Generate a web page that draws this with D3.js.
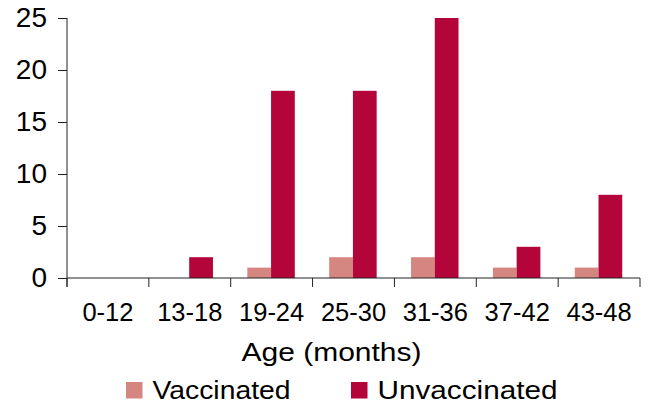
<!DOCTYPE html>
<html>
<head>
<meta charset="utf-8">
<script src="https://cdn.jsdelivr.net/npm/d3@7"></script>
<style>
  html, body { margin: 0; padding: 0; background: #fff; }
  svg { display: block; font-family: "Liberation Sans", Arial, Helvetica, sans-serif; }
</style>
</head>
<body>
<svg id="svg" width="649" height="406"></svg>
<script>
const $svg = d3.select('#svg')

const ageGroups = ['0-12', '13-18', '19-24', '25-30', '31-36', '37-42', '43-48']
const seriesNames = ['Vaccinated', 'Unvaccinated']
const vaccinated = [0, 0, 1, 2, 2, 1, 1]
const unvaccinated = [0, 2, 18, 18, 25, 3, 8]
const yTicks = [0, 5, 10, 15, 20, 25]

const colors = { Vaccinated: '#d68680', Unvaccinated: '#b30539' }

const plotLeft = 67
const plotRight = 640
const plotTop = 18
const plotBottom = 278

const rows = ageGroups.map((age, i) => ({
	age,
	values: [
		{ key: 'Vaccinated', value: vaccinated[i] },
		{ key: 'Unvaccinated', value: unvaccinated[i] },
	],
}))

const xScale = d3.scaleBand()
	.domain(ageGroups)
	.range([plotLeft, plotRight])
	.padding(0)

const bw = xScale.bandwidth()

const xInner = d3.scaleBand()
	.domain(seriesNames)
	.range([bw * 0.203, bw * 0.783])
	.padding(0)

const yScale = d3.scaleLinear()
	.domain([0, 25])
	.range([plotBottom, plotTop])

// bars
const $groups = $svg.append('g')
	.selectAll('g')
	.data(rows)
	.join('g')
	.attr('transform', d => `translate(${xScale(d.age)},0)`)

$groups.selectAll('rect')
	.data(d => d.values)
	.join('rect')
	.attr('x', d => xInner(d.key))
	.attr('width', xInner.bandwidth())
	.attr('y', d => yScale(d.value))
	.attr('height', d => plotBottom - yScale(d.value))
	.attr('fill', d => colors[d.key])

// y axis
const $yAxis = $svg.append('g')
	.attr('transform', `translate(${plotLeft},0)`)
	.call(d3.axisLeft(yScale).tickValues(yTicks).tickSize(9).tickPadding(11))

$yAxis.attr('font-family', null).attr('font-size', null)
$yAxis.select('.domain').attr('stroke', '#222').attr('d', `M0,${plotTop}V${plotBottom + 9}`)
$yAxis.selectAll('.tick line').attr('stroke', '#222')
$yAxis.selectAll('.tick text')
	.attr('font-size', 28)
	.attr('fill', '#000')

// x axis: ticks at band edges, labels at band centres
const $xAxis = $svg.append('g')
	.attr('transform', `translate(0,${plotBottom})`)

$xAxis.append('path')
	.attr('d', `M${plotLeft},0H${plotRight}`)
	.attr('stroke', '#222')
	.attr('fill', 'none')

const edges = ageGroups.map(a => xScale(a)).concat([plotRight])
$xAxis.selectAll('line.edge')
	.data(edges)
	.join('line')
	.attr('class', 'edge')
	.attr('x1', d => d)
	.attr('x2', d => d)
	.attr('y1', 0)
	.attr('y2', 9)
	.attr('stroke', '#222')

$xAxis.selectAll('text.lbl')
	.data(ageGroups)
	.join('text')
	.attr('class', 'lbl')
	.attr('x', d => xScale(d) + bw / 2)
	.attr('y', 43)
	.attr('text-anchor', 'middle')
	.attr('font-size', 25.5)
	.attr('fill', '#000')
	.text(d => d)

// axis title
$svg.append('text')
	.attr('x', 331.5)
	.attr('y', 361)
	.attr('text-anchor', 'middle')
	.attr('font-size', 26)
	.attr('textLength', 180)
	.attr('lengthAdjust', 'spacingAndGlyphs')
	.attr('fill', '#000')
	.text('Age (months)')

// legend
const legend = [
	{ key: 'Vaccinated', x: 126, width: 138 },
	{ key: 'Unvaccinated', x: 351, width: 180 },
]

const $legend = $svg.append('g')
	.selectAll('g')
	.data(legend)
	.join('g')
	.attr('transform', d => `translate(${d.x},382)`)

$legend.append('rect')
	.attr('width', 16.5)
	.attr('height', 16.5)
	.attr('fill', d => colors[d.key])

$legend.append('text')
	.attr('x', 26.5)
	.attr('y', 16.8)
	.attr('font-size', 26)
	.attr('textLength', d => d.width)
	.attr('lengthAdjust', 'spacingAndGlyphs')
	.attr('fill', '#000')
	.text(d => d.key)
</script>
</body>
</html>
